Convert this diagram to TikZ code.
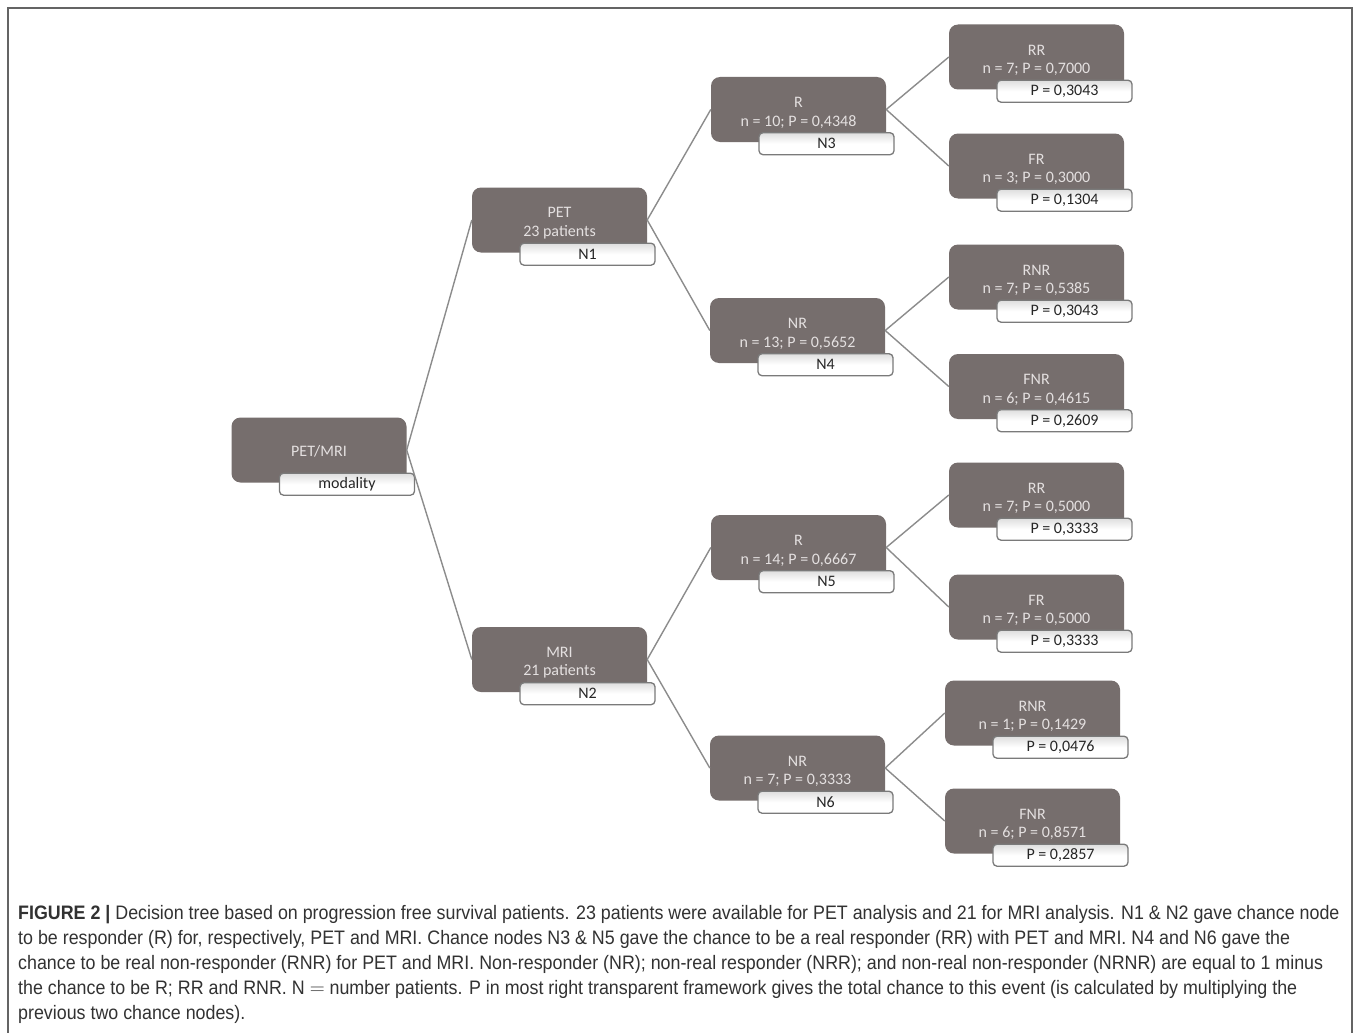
\documentclass[tikz,border=0pt]{standalone}
\usepackage{fontspec}
\setmainfont{Carlito}
\newfontfamily\capfam[FakeStretch=0.915]{Liberation Sans}
\usetikzlibrary{calc}
\definecolor{boxc}{RGB}{118,110,109}
\definecolor{txtc}{RGB}{228,224,224}
\definecolor{labc}{RGB}{122,122,122}
\definecolor{linec}{RGB}{140,140,140}
\definecolor{capc}{RGB}{50,50,50}
\definecolor{framec}{RGB}{100,100,100}
\newcommand\dfont{\fontsize{16}{18.5}\selectfont}
\newcommand\capfont{\capfam\fontsize{19.5}{25}\selectfont}
\tikzset{
  darkbox/.style={fill=boxc, rounded corners=9pt, minimum width=175pt, minimum height=65pt, inner sep=0pt},
  labbox/.style={draw=labc, line width=1.3pt, rounded corners=4pt, top color=black!13, bottom color=white, middle color=white,
    minimum width=135pt, minimum height=22pt, inner sep=0pt, font=\dfont, text=black!85},
  dtext/.style={text=txtc, align=center, font=\dfont, inner sep=0pt},
  conn/.style={draw=linec, line width=1.4pt},
  captext/.style={anchor=base west, inner sep=0pt, font=\capfont, text=capc}
}
\newcommand\treebox[5]{%
  \node[darkbox] (#1) at (#2,#3) {};
  \node[dtext] (#1t) at ([yshift=-36pt]#1.north) {#4};
  \node[labbox] (#1l) at ([xshift=28pt,yshift=-1.5pt]#1.south) {#5};
}
\begin{document}
\begin{tikzpicture}[x=1pt,y=-1pt]
\useasboundingbox (0,0) rectangle (1358,1033);
\fill[white] (0,0) rectangle (1358,1033);
% frame
\draw[framec, line width=1.4pt] (8,1040) -- (8,8) -- (1352,8) -- (1352,1040);
% nodes
\node[darkbox] (root) at (319,450) {};
\node[dtext] (roott) at ([yshift=-1.5pt]root.center) {PET/MRI};
\node[labbox] (rootl) at ([xshift=28pt,yshift=-1.5pt]root.south) {modality};
\treebox{pet}{559.5}{220}{PET\\23 patients}{N1}
\treebox{mri}{559.5}{659.5}{MRI\\21 patients}{N2}
\treebox{nthree}{798.5}{109.5}{R\\n = 10; P = 0,4348}{N3}
\treebox{nfour}{797.5}{330.5}{NR\\n = 13; P = 0,5652}{N4}
\treebox{nfive}{798.5}{547.5}{R\\n = 14; P = 0,6667}{N5}
\treebox{nsix}{797.5}{768}{NR\\n = 7; P = 0,3333}{N6}
\treebox{rra}{1036.5}{57}{RR\\n = 7; P = 0,7000}{P = 0,3043}
\treebox{fra}{1036.5}{166}{FR\\n = 3; P = 0,3000}{P = 0,1304}
\treebox{rnra}{1036.5}{277}{RNR\\n = 7; P = 0,5385}{P = 0,3043}
\treebox{fnra}{1036.5}{386.5}{FNR\\n = 6; P = 0,4615}{P = 0,2609}
\treebox{rrb}{1036.5}{495}{RR\\n = 7; P = 0,5000}{P = 0,3333}
\treebox{frb}{1036.5}{607}{FR\\n = 7; P = 0,5000}{P = 0,3333}
\treebox{rnrb}{1032.5}{713}{RNR\\n = 1; P = 0,1429}{P = 0,0476}
\treebox{fnrb}{1032.5}{821}{FNR\\n = 6; P = 0,8571}{P = 0,2857}
% connectors
\draw[conn] (root.east) -- (pet.west);
\draw[conn] (root.east) -- (mri.west);
\draw[conn] (pet.east) -- (nthree.west);
\draw[conn] (pet.east) -- (nfour.west);
\draw[conn] (mri.east) -- (nfive.west);
\draw[conn] (mri.east) -- (nsix.west);
\draw[conn] (nthree.east) -- (rra.west);
\draw[conn] (nthree.east) -- (fra.west);
\draw[conn] (nfour.east) -- (rnra.west);
\draw[conn] (nfour.east) -- (fnra.west);
\draw[conn] (nfive.east) -- (rrb.west);
\draw[conn] (nfive.east) -- (frb.west);
\draw[conn] (nsix.east) -- (rnrb.west);
\draw[conn] (nsix.east) -- (fnrb.west);
% caption
\node[captext] (capa) at (18,919) {\textbf{FIGURE 2 |} Decision tree based on progression free survival patients. 23 patients were available for PET analysis and 21 for MRI analysis. N1 \& N2 gave chance node};
\node[captext] (capb) at (18,944) {to be responder (R) for, respectively, PET and MRI. Chance nodes N3 \& N5 gave the chance to be a real responder (RR) with PET and MRI. N4 and N6 gave the};
\node[captext] (capc) at (18,969) {chance to be real non-responder (RNR) for PET and MRI. Non-responder (NR); non-real responder (NRR); and non-real non-responder (NRNR) are equal to 1 minus};
\node[captext] (capd) at (18,994) {the chance to be R; RR and RNR. N $=$ number patients. P in most right transparent framework gives the total chance to this event (is calculated by multiplying the};
\node[captext] (cape) at (18,1019) {previous two chance nodes).};
\end{tikzpicture}
\end{document}
